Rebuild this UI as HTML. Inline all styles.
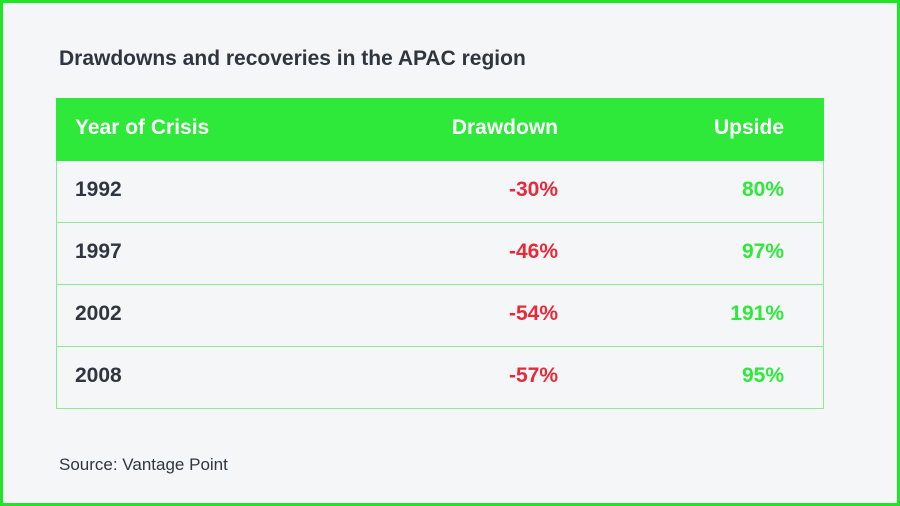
<!DOCTYPE html>
<html><head><style>
body{margin:0;width:900px;height:506px;overflow:hidden;font-family:"Liberation Sans",sans-serif;}
.f{position:absolute;left:0;top:0;width:894px;height:500px;border:3px solid #1ee626;background:#f5f6f8;}
.t{position:absolute;left:56px;top:44px;font-size:21px;font-weight:bold;color:#2f3640;}
table{position:absolute;left:53px;top:95px;width:768px;border-collapse:collapse;table-layout:fixed;}
td{height:58px;border:1px solid #8fe89a;font-size:21px;font-weight:bold;color:#2f3640;padding:0 0 3px 0;}
tr.h td{background:#2ee83a;color:#fff;border-color:#2ee83a;}
td.a{padding-left:18px;width:326px;border-right:none}
td.b{text-align:right;width:157px;border-left:none;border-right:none}
td.c{text-align:right;padding-right:39px;border-left:none}
.r{color:#e8293a}.g{color:#2ee83a}
.s{position:absolute;left:56px;top:452px;font-size:17px;color:#2f3640;}
</style></head><body><div class="f">
<div class="t">Drawdowns and recoveries in the APAC region</div>
<table>
<tr class="h"><td class="a">Year of Crisis</td><td class="b">Drawdown</td><td class="c">Upside</td></tr>
<tr><td class="a">1992</td><td class="b r">-30%</td><td class="c g">80%</td></tr>
<tr><td class="a">1997</td><td class="b r">-46%</td><td class="c g">97%</td></tr>
<tr><td class="a">2002</td><td class="b r">-54%</td><td class="c g">191%</td></tr>
<tr><td class="a">2008</td><td class="b r">-57%</td><td class="c g">95%</td></tr>
</table>
<div class="s">Source: Vantage Point</div>
</div></body></html>
